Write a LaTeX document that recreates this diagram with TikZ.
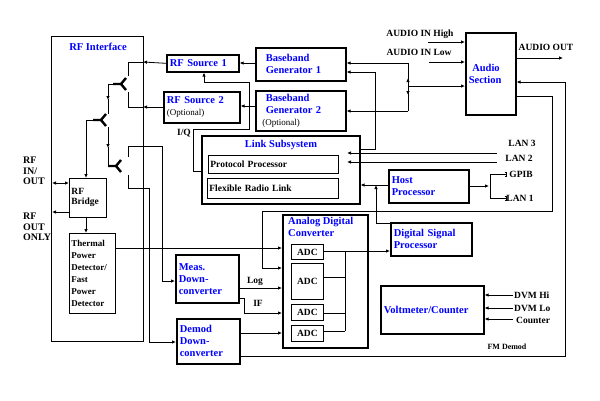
\documentclass[tikz,border=0pt]{standalone}
\usepackage{fontspec}
\setmainfont{Liberation Serif}
\usetikzlibrary{positioning,arrows.meta}

\begin{document}
\begin{tikzpicture}[
    x=1pt, y=-1pt,
    font=\bfseries\fontsize{9.5}{10}\selectfont,
    blk/.style={
    	draw, line width=1.6pt, inner sep=3pt, align=left, anchor=north west
    }, thin/.style={
    	draw, line width=0.8pt, inner sep=2pt, align=left, anchor=north west
    }, big/.style={
    	font=\bfseries\fontsize{10.5}{12}\selectfont
    }, ttl/.style={
    	text=blue, big, align=left, inner sep=0pt
    }, lbl/.style={
    	inner sep=0pt, align=left
    }, pil/.style={
    	-{Latex[length=4pt,width=3.5pt]}, line width=0.8pt
    }, ln/.style={
    	line width=0.8pt
    }]
    \useasboundingbox (0,0) rectangle (600,400);

    %%% RF interface side
    \node[thin, minimum width=92pt, minimum height=305pt] (rfif) at (51,36) {};
    \node[ttl] (rfift) at (98,47) {RF Interface};
    \node[thin, minimum width=37pt, minimum height=39pt, text width=33pt, anchor=north west] (bridge) at (69,178) {RF\\Bridge};
    \node[thin, minimum width=46pt, minimum height=80pt, text width=42pt,
    	font=\bfseries\fontsize{9}{12}\selectfont] (therm) at (69,233) {Thermal\\Power\\Detector/\\Fast\\Power\\Detector};
    \node[lbl, anchor=north west, font=\bfseries\fontsize{10}{10.5}\selectfont] (rfio) at (23,157) {RF\\IN/\\OUT};
    \node[lbl, anchor=north west, font=\bfseries\fontsize{10}{10.5}\selectfont] (rfout) at (23,213) {RF\\OUT\\ONLY};

    %%% sources and generators
    \node[blk, minimum width=72pt, minimum height=17pt, text width=66pt, text=blue, big] (rfs1) at (166,54) {RF Source 1};
    \node[blk, minimum width=76pt, minimum height=31pt, text width=70pt, big] (rfs2) at (163,91) {\textcolor{blue}{RF Source 2}\\{\mdseries\small(Optional)}};
    \node[blk, minimum width=90pt, minimum height=33pt, text width=84pt, text=blue, big] (bb1) at (255,47) {\ \ Baseband\\\ \ Generator 1};
    \node[blk, minimum width=90pt, minimum height=40pt, text width=84pt, big] (bb2) at (255,90) {\textcolor{blue}{\ \ Baseband}\\\textcolor{blue}{\ \ Generator 2}\\{\mdseries\small\ (Optional)}};
    \node[blk, minimum width=50pt, minimum height=82pt, text width=44pt, text=blue, big] (audio) at (465,32) {\ Audio\\Section};

    %%% link subsystem
    \node[blk, minimum width=158pt, minimum height=68pt] (link) at (201,135) {};
    \node[ttl] (linkt) at (281,145) {Link Subsystem};
    \node[thin, minimum width=130pt, minimum height=18pt, text width=126pt, anchor=west] (proto) at (208,164) {Protocol Processor};
    \node[thin, minimum width=131pt, minimum height=20pt, text width=127pt, anchor=west] (flex) at (207,188) {Flexible Radio Link};
    \node[blk, minimum width=80pt, minimum height=33pt, text width=74pt, text=blue, big] (host) at (388,169) {Host\\Processor};

    %%% converters
    \node[blk, minimum width=85pt, minimum height=133pt] (adc) at (282,214) {};
    \node[ttl, anchor=north west] (adct) at (288,217) {Analog Digital\\Converter};
    \node[thin, minimum width=32pt, minimum height=15pt] (adc1) at (291,244) {ADC};
    \node[thin, minimum width=32pt, minimum height=36pt] (adc2) at (291,263) {ADC};
    \node[thin, minimum width=32pt, minimum height=16pt] (adc3) at (291,304) {ADC};
    \node[thin, minimum width=32pt, minimum height=16pt] (adc4) at (291,325) {ADC};
    \node[blk, minimum width=81pt, minimum height=33pt, text width=75pt, text=blue, big] (dsp) at (390,222) {Digital Signal\\Processor};
    \node[blk, minimum width=103pt, minimum height=48pt, text width=97pt, text=blue, big] (volt) at (380,285) {Voltmeter/Counter};
    \node[blk, minimum width=63pt, minimum height=48pt, text width=57pt, text=blue, big] (meas) at (175,254) {Meas.\\Down-\\converter};
    \node[blk, minimum width=63pt, minimum height=45pt, text width=57pt, text=blue, big] (demod) at (176,318) {Demod\\Down-\\converter};

    %%% outside labels
    \node[lbl] (ahigh) at (420,34) {AUDIO IN High};
    \node[lbl] (alow) at (419,52) {AUDIO IN Low};
    \node[lbl] (aout) at (546,47) {AUDIO OUT};
    \node[lbl] (lan3) at (522,143) {LAN 3};
    \node[lbl] (lan2) at (519,158) {LAN 2};
    \node[lbl] (gpib) at (521,174) {GPIB};
    \node[lbl] (lan1) at (520,198) {LAN 1};
    \node[lbl, anchor=west] (dvmhi) at (514,295) {DVM Hi};
    \node[lbl, anchor=west] (dvmlo) at (514,308) {DVM Lo};
    \node[lbl, anchor=west] (cnt) at (516,320) {Counter};
    \node[lbl, font=\bfseries\fontsize{8}{8}\selectfont] (fm) at (507,347) {FM Demod};
    \node[lbl] (iq) at (184,133) {I/Q};
    \node[lbl] (log) at (255,281) {Log};
    \node[lbl] (if) at (258,303) {IF};

    %%% splitters
    \foreach \n/\x/\y in {spa/113/84, spb/93/120, spc/108/166} {
    	\coordinate (\n) at (\x,\y);
    	\draw[line width=2.4pt] (\x,\y) -- ++(8,0) -- ++(5,-6);
    	\draw[line width=2.4pt] (\x+8,\y) -- ++(5,6);
    }

    %%% EDGES
    \draw[pil] (rfs1.west) -- (143,62);
    \draw[ln] (143,62) -| (128,76);
    \draw[pil] (rfs2.west |- 0,107) -- (143,107);
    \draw[ln] (143,107) -| (128,92);
    \draw[pil] (spa) -| (108,100);
    \draw[ln] (108,99) -- (108,114);
    \draw[pil] (108,127) -- (108,148);
    \draw[ln] (108,147) -- (spc);
    \draw[pil] (spb) -| (bridge.north -| 86,0);
    \draw[ln] (128,157) |- (162,146) -- (162,281);
    \draw[pil] (162,281) -- (meas.west |- 0,281);
    \draw[ln] (128,175) |- (149,188) -- (149,342);
    \draw[pil] (149,342) -- (demod.west |- 0,342);
    \draw[{Latex[length=4pt,width=3.5pt]}-{Latex[length=4pt,width=3.5pt]}, line width=0.8pt] (52,183) -- (bridge.west |- 0,183);
    \draw[pil] (bridge.west |- 0,212) -- (52,212);
    \draw[pil] (86,217) -- (therm.north -| 86,0);

    \draw[pil] (bb1.west |- 0,63) -- (rfs1.east |- 0,63);
    \draw[pil] (bb2.west |- 0,106) -- (rfs2.east |- 0,106);
    \draw[pil] (link.west |- 0,171) -| (193,129) -| (249,82) -| (rfs1.south -| 204,0);
    \draw[pil] (link.east |- 0,149) -| (375,72) -- (bb1.east |- 0,72);
    \draw[pil] (408,63) -- (bb1.east |- 0,63);
    \draw[pil] (408,111) -- (bb2.east |- 0,111);
    \draw[ln] (408,63) -- (408,111);
    \draw[pil] (408,86) -- (408,78);
    \draw[pil] (408,86) -- (408,95);
    \draw[pil] (408,86) -- (audio.west |- 0,86);
    \draw[pil] (428,42) -- (audio.west |- 0,42);
    \draw[pil] (429,62) -- (audio.west |- 0,62);
    \draw[pil] (audio.east |- 0,58) -- (563,58);

    \draw[pil] (497,153) -- (347,153);
    \draw[pil] (497,162) -- (347,162);
    \draw[pil] (host.west |- 0,185) -- (link.east |- 0,185);
    \draw[pil] (dsp.west |- 0,223) -| (376,185);
    \draw[pil] (host.east |- 0,186) -- (489,186);
    \draw[ln] (490,174) -- (490,198);
    \draw[-{Bracket[width=5pt,length=2pt]}, line width=0.8pt] (490,174) -- (507,174);
    \draw[-{Bracket[width=5pt,length=2pt]}, line width=0.8pt] (490,198) -- (507,198);

    \draw[pil] (audio.east |- 0,96) -| (552,211) -| (262,268) -- (adc.west |- 0,268);
    \draw[pil] (demod.east |- 0,356) -| (565,82) -- (audio.east |- 0,82);
    \draw[pil] (therm.east |- 0,248) -- (adc.west |- 0,248);
    \draw[pil] (meas.east |- 0,288) -- (adc.west |- 0,288);
    \draw[pil] (meas.east |- 0,298) -| (244,313) -- (adc.west |- 0,313);
    \draw[pil] (demod.east |- 0,333) -- (adc.west |- 0,333);

    \draw[pil] (adc1.east |- 0,251) -- (dsp.west |- 0,251);
    \draw[ln] (adc2.east |- 0,277) -- (345,277);
    \draw[ln] (adc3.east |- 0,313) -- (345,313);
    \draw[ln] (adc4.east |- 0,331) -- (345,331);
    \draw[ln] (345,251) -- (345,331);

    \draw[pil] (513,295) -- (volt.east |- 0,295);
    \draw[pil] (513,308) -- (volt.east |- 0,308);
    \draw[pil] (513,319) -- (volt.east |- 0,319);
\end{tikzpicture}
\end{document}
